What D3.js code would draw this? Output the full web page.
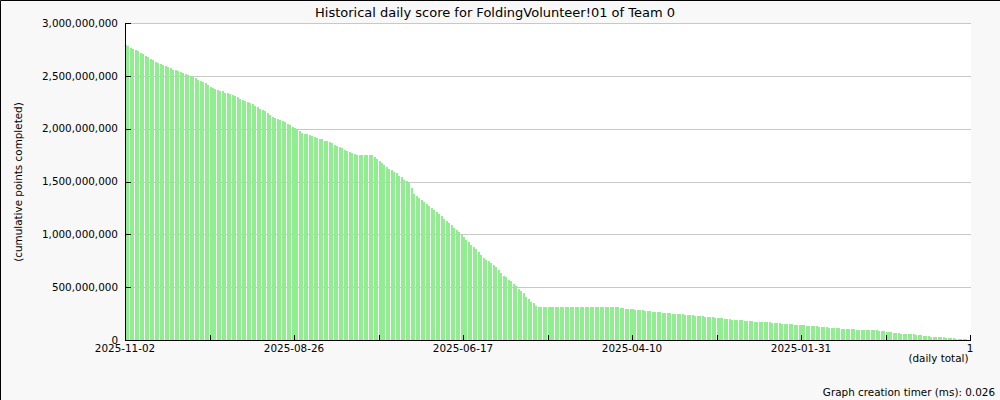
<!DOCTYPE html>
<html>
<head>
<meta charset="utf-8">
<script src="https://cdn.jsdelivr.net/npm/d3@7"></script>
<style>
  html, body { margin: 0; padding: 0; background: #f8f8f8; }
  svg { display: block; }
  text { font-family: "DejaVu Sans", sans-serif; fill: #000; }
</style>
</head>
<body>
<svg id="chart" width="1000" height="400"></svg>
<script>
// ---- data (cumulative points, millions), newest day first ----
const scoresM = [
  2795, 2785, 2763, 2754, 2742, 2732, 2719, 2707, 2691, 2678,
  2662, 2653, 2631, 2621, 2609, 2600, 2593, 2581, 2571, 2558,
  2552, 2543, 2536, 2527, 2517, 2505, 2496, 2486, 2477, 2463,
  2448, 2439, 2429, 2416, 2397, 2385, 2375, 2369, 2359, 2359,
  2340, 2340, 2331, 2321, 2312, 2300, 2284, 2271, 2262, 2252,
  2243, 2233, 2217, 2202, 2189, 2174, 2164, 2145, 2126, 2113,
  2104, 2094, 2082, 2070, 2063, 2047, 2032, 2016, 2006, 1994,
  1981, 1956, 1950, 1950, 1937, 1928, 1918, 1909, 1899, 1899,
  1886, 1886, 1874, 1864, 1848, 1836, 1824, 1817, 1801, 1791,
  1782, 1773, 1760, 1752, 1748, 1748, 1748, 1748, 1748, 1748,
  1729, 1713, 1694, 1675, 1656, 1637, 1621, 1609, 1590, 1580,
  1552, 1543, 1514, 1502, 1486, 1440, 1385, 1363, 1347, 1328,
  1306, 1287, 1268, 1249, 1230, 1211, 1192, 1174, 1142, 1126,
  1110, 1085, 1060, 1041, 1022, 991, 972, 946, 927, 902,
  877, 858, 833, 808, 780, 760, 745, 729, 710, 688,
  662, 637, 609, 599, 568, 558, 530, 511, 483, 464,
  442, 410, 388, 362, 347, 322, 315, 315, 315, 315,
  315, 315, 315, 315, 315, 315, 315, 315, 315, 315,
  315, 315, 315, 315, 315, 315, 315, 315, 315, 315,
  315, 315, 315, 315, 315, 315, 315, 315, 309, 305,
  300, 296, 293, 293, 290, 286, 284, 284, 280, 271,
  271, 271, 268, 263, 263, 263, 259, 254, 254, 254,
  250, 246, 246, 246, 243, 240, 240, 240, 235, 230,
  230, 230, 226, 222, 222, 222, 217, 211, 211, 211,
  205, 199, 199, 199, 194, 189, 189, 189, 186, 183,
  183, 183, 178, 173, 173, 173, 170, 166, 166, 166,
  163, 159, 159, 159, 155, 151, 151, 151, 148, 144,
  144, 144, 142, 142, 136, 134, 132, 132, 128, 126,
  126, 126, 120, 114, 114, 114, 114, 110, 104, 104,
  104, 104, 104, 101, 98, 98, 98, 98, 94, 91,
  91, 91, 91, 85, 82, 82, 79, 76, 76, 70,
  66, 66, 60, 60, 57, 54, 54, 54, 50, 44,
  44, 41, 38, 35, 32, 32, 32, 28, 25, 25,
  22, 19, 19, 15, 13, 13, 9, 8, 6, 3
];
const xTickIndex = [0, 68, 136, 204, 272, 340];
const xTickLabels = ["2025-11-02", "2025-08-26", "2025-06-17", "2025-04-10", "2025-01-31", "1"];
const xMinorTickIndex = [34, 102, 170, 238, 306];
const yTicks = [0, 500000000, 1000000000, 1500000000, 2000000000, 2500000000, 3000000000];
const titleText = "Historical daily score for FoldingVolunteer!01 of Team 0";
const yAxisTitle = "(cumulative points completed)";
const xAxisNote = "(daily total)";
const footerText = "Graph creation timer (ms): 0.026";

// ---- layout ----
const W = 1000, H = 400;
const plot = { left: 125, right: 971, top: 23, bottom: 340 };
const svg = d3.select("#chart");

svg.append("rect").attr("x", 0).attr("y", 0).attr("width", W).attr("height", H)
  .attr("fill", "#f8f8f8");
// frame: dark top and left edges
svg.append("path").attr("d", `M0.5,${H} L0.5,0.5 L${W},0.5`)
  .attr("fill", "none").attr("stroke", "#000").attr("stroke-width", 1);

svg.append("rect").attr("x", plot.left).attr("y", plot.top)
  .attr("width", plot.right - plot.left).attr("height", plot.bottom - plot.top)
  .attr("fill", "#ffffff");

const x = d3.scaleLinear().domain([0, scoresM.length]).range([125, 970]);
const y = d3.scaleLinear().domain([0, 3000000000]).range([plot.bottom, plot.top]);

// grid lines
svg.append("g").selectAll("line").data(yTicks.filter(d => d > 0)).join("line")
  .attr("x1", plot.left).attr("x2", plot.right)
  .attr("y1", d => Math.round(y(d)) + 0.5).attr("y2", d => Math.round(y(d)) + 0.5)
  .attr("stroke", "#c8c8c8").attr("stroke-width", 1);

// bars
svg.append("g").attr("shape-rendering", "crispEdges").selectAll("rect")
  .data(scoresM).join("rect")
  .attr("x", (d, i) => Math.round(x(i)))
  .attr("width", 2)
  .attr("y", d => Math.round(y(d * 1e6)))
  .attr("height", d => plot.bottom - Math.round(y(d * 1e6)))
  .attr("fill", "#90ee90");

// axes lines
const axisG = svg.append("g").attr("shape-rendering", "crispEdges");
axisG.append("line").attr("x1", 125.5).attr("x2", 125.5).attr("y1", plot.top).attr("y2", plot.bottom + 1)
  .attr("stroke", "#000");
axisG.append("line").attr("x1", 125).attr("x2", 971).attr("y1", 340.5).attr("y2", 340.5)
  .attr("stroke", "#000");

// y ticks (inward) + labels
axisG.selectAll("line.yt").data(yTicks).join("line").attr("class", "yt")
  .attr("x1", 125).attr("x2", 131)
  .attr("y1", d => Math.round(y(d)) + 0.5).attr("y2", d => Math.round(y(d)) + 0.5)
  .attr("stroke", "#000");
const fmt = d3.format(",");
svg.append("g").selectAll("text").data(yTicks).join("text")
  .attr("x", 118).attr("y", d => y(d) + 3.8)
  .attr("text-anchor", "end").attr("font-size", "10.4px")
  .text(d => fmt(d));

// x ticks (inward)
const allTicks = xTickIndex.concat(xMinorTickIndex);
axisG.selectAll("line.xt").data(allTicks).join("line").attr("class", "xt")
  .attr("x1", d => Math.round(x(d)) + 0.5).attr("x2", d => Math.round(x(d)) + 0.5)
  .attr("y1", 335).attr("y2", 340)
  .attr("stroke", "#000");
svg.append("g").selectAll("text").data(xTickIndex).join("text")
  .attr("x", d => x(d)).attr("y", 351.7)
  .attr("text-anchor", "middle").attr("font-size", "10.4px")
  .text((d, i) => xTickLabels[i]);

// titles
svg.append("text").attr("x", 495).attr("y", 16.5).attr("text-anchor", "middle")
  .attr("font-size", "13px").text(titleText);
svg.append("text").attr("transform", "translate(21.5,182) rotate(-90)")
  .attr("text-anchor", "middle").attr("font-size", "10.4px").text(yAxisTitle);
svg.append("text").attr("x", 968.5).attr("y", 361.5).attr("text-anchor", "end")
  .attr("font-size", "10.4px").text(xAxisNote);
svg.append("text").attr("x", 995).attr("y", 396).attr("text-anchor", "end")
  .attr("font-size", "10.4px").text(footerText);
</script>
</body>
</html>
